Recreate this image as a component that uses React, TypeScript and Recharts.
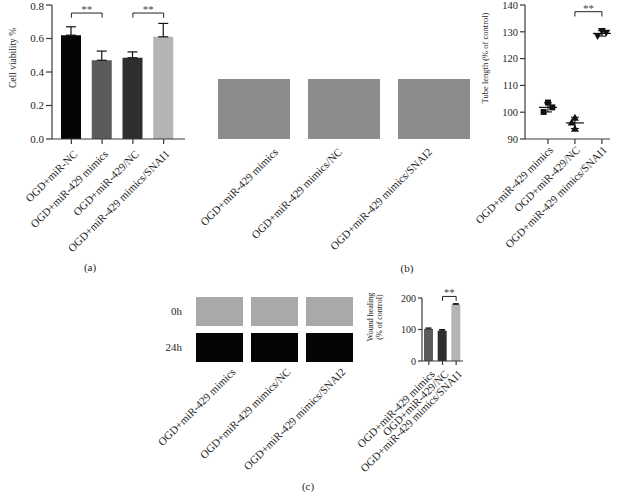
import React from 'react';
import {
  BarChart,
  Bar,
  Cell,
  XAxis,
  YAxis,
  ErrorBar,
  ReferenceLine,
  ScatterChart,
  Scatter,
} from 'recharts';

const FONT = '"Liberation Serif", "Times New Roman", Times, serif';
const INK = '#1e1e1e';
const AXIS = '#3a3a3a';

// ---------- (a) Cell viability ----------
const viabilityGroups = ['OGD+miR-NC', 'OGD+miR-429 mimics', 'OGD+miR-429/NC', 'OGD+miR-429 mimics/SNAI1'];
const viabilityMeans = [0.62, 0.47, 0.485, 0.61];
const viabilitySD = [0.05, 0.055, 0.035, 0.08];
const viabilityTicks = [0, 0.2, 0.4, 0.6, 0.8];
const viabilityColors = ['#050505', '#5b5b5b', '#2e2e2e', '#b4b4b4'];

// ---------- (b) tube formation images ----------
const tubeImageLabels = ['OGD+miR-429 mimics', 'OGD+miR-429 mimics/NC', 'OGD+miR-429 mimics/SNAI2'];
const tubeImageFill = [1, 1, 1];

// ---------- (b) tube length ----------
const tubeGroups = ['OGD+miR-429 mimics', 'OGD+miR-429/NC', 'OGD+miR-429 mimics/SNAI1'];
const tubeCategory = [1, 2, 3];
const tubeRep1 = [100.1, 97.9, 128.4];
const tubeRep2 = [103.6, 96.2, 130.3];
const tubeRep3 = [101.8, 93.8, 129.6];
const tubeMean = [101.8, 96.0, 129.4];
const tubeSD = [1.7, 2.1, 1.0];
const tubeTicks = [90, 100, 110, 120, 130, 140];

// ---------- (c) wound images ----------
const woundImageLabels = ['OGD+miR-429 mimics', 'OGD+miR-429 mimics/NC', 'OGD+miR-429 mimics/SNAI2'];
const woundRowLabels = ['24h', '0h'];

// ---------- (c) wound healing ----------
const woundGroups = ['OGD+miR-429 mimics', 'OGD+miR-429/NC', 'OGD+miR-429 mimics/SNAI1'];
const woundMeans = [102, 96, 180];
const woundSD = [3, 4, 2];
const woundTicks = [0, 50, 100, 150, 200];
const woundColors = ['#5b5b5b', '#2e2e2e', '#b4b4b4'];

// ---------- layout-only constants ----------
const tubeJitter = [
  [-0.16, 0, 0.16],
  [0, -0.12, 0],
  [-0.16, 0, 0.16],
];
const tubeImageNudge = [22, -4, -4];

// ---------- built tables ----------
const viabilityData = viabilityGroups.map((g, i) => ({ group: g, mean: viabilityMeans[i], err: [0, viabilitySD[i]] }));
const tubeImageData = tubeImageLabels.map((l, i) => ({ label: l, v: tubeImageFill[i] }));
const tubeReps = [tubeRep1, tubeRep2, tubeRep3];
const tubePoints = tubeCategory.map((c, g) =>
  tubeReps.map((rep, r) => ({ x: c + tubeJitter[g][r], y: rep[g] }))
);
const tubeMeanData = tubeCategory.map((c, g) => ({ x: c, y: tubeMean[g], err: tubeSD[g] }));
const woundImageData = woundImageLabels.map((l) => ({ label: l, s24: 1, gap: 0.25, s0: 1 }));
const woundData = woundGroups.map((g, i) => ({ group: g, mean: woundMeans[i], err: [0, woundSD[i]] }));

const SlantTick = (props: any) => {
  const { x, y, payload, index, labels, fs = 11, dx = 0, dy = 0, nudges } = props;
  let text = payload.value;
  if (labels) text = typeof payload.value === 'number' ? labels[payload.value - 1] : payload.value;
  const nx = nudges ? nudges[index] || 0 : 0;
  return (
    <g transform={`translate(${x + dx + nx},${y + dy})`}>
      <text textAnchor="end" transform="rotate(-45)" fontSize={fs} fontFamily={FONT} fill={INK} dy="0.35em">
        {text}
      </text>
    </g>
  );
};

const vTitle = (lines: string[], xs: number[], cy: number, fs: number) => () => (
  <g>
    {lines.map((l, i) => (
      <text
        key={i}
        x={xs[i]}
        y={cy}
        transform={`rotate(-90, ${xs[i]}, ${cy})`}
        textAnchor="middle"
        dominantBaseline="central"
        fontSize={fs}
        fontFamily={FONT}
        fill={INK}
      >
        {l}
      </text>
    ))}
  </g>
);

const starLabel = {
  content: (p: any) => {
    const vb = p.viewBox || { x: 0, y: 0, width: 0 };
    return (
      <text x={vb.x + vb.width / 2} y={vb.y} textAnchor="middle" fontSize={11} fontFamily={FONT} fill="#444">
        **
      </text>
    );
  },
};
const bracketStroke = { stroke: '#222', strokeWidth: 1 };

const PanelTag = ({ x, y, text }: { x: number; y: number; text: string }) => (
  <div
    style={{
      position: 'absolute',
      left: x - 20,
      top: y - 7,
      width: 40,
      lineHeight: '14px',
      textAlign: 'center',
      fontFamily: FONT,
      fontSize: 11,
      color: INK,
    }}
  >
    {text}
  </div>
);

const Abs = ({ x, y, children }: { x: number; y: number; children: React.ReactNode }) => (
  <div style={{ position: 'absolute', left: x, top: y }}>{children}</div>
);

const axisTick = (fs: number) => ({ fontSize: fs, fontFamily: FONT, fill: INK });

export default function App() {
  return (
    <div
      style={{
        position: 'absolute',
        left: 0,
        top: 0,
        width: 620,
        height: 493,
        background: '#fff',
        overflow: 'hidden',
      }}
    >
      {/* (a) Cell viability */}
      <Abs x={0} y={0}>
        <BarChart width={200} height={260} data={viabilityData} margin={{ top: 5, right: 15, left: 0, bottom: 0 }}>
          <XAxis
            dataKey="group"
            height={121}
            padding={{ left: 4, right: 6 }}
            tickSize={5}
            stroke={AXIS}
            strokeWidth={1.2}
            interval={0}
            tick={<SlantTick fs={11} dx={4} dy={6} />}
          />
          <YAxis
            width={52}
            domain={[0, 0.8]}
            ticks={viabilityTicks}
            tickFormatter={(v: number) => v.toFixed(1)}
            stroke={AXIS}
            strokeWidth={1.2}
            tick={axisTick(11)}
            label={{ content: vTitle(['Cell viability %'], [13], 58, 9.5) }}
          />
          <Bar dataKey="mean" barSize={20} isAnimationActive={false}>
            {viabilityData.map((d, i) => (
              <Cell key={d.group} fill={viabilityColors[i]} />
            ))}
            <ErrorBar dataKey="err" width={5} stroke="#111" strokeWidth={1.2} />
          </Bar>
          <ReferenceLine segment={[{ x: viabilityGroups[0], y: 0.752 }, { x: viabilityGroups[1], y: 0.752 }]} {...bracketStroke} label={starLabel} ifOverflow="visible" />
          <ReferenceLine segment={[{ x: viabilityGroups[0], y: 0.752 }, { x: viabilityGroups[0], y: 0.724 }]} {...bracketStroke} ifOverflow="visible" />
          <ReferenceLine segment={[{ x: viabilityGroups[1], y: 0.752 }, { x: viabilityGroups[1], y: 0.724 }]} {...bracketStroke} ifOverflow="visible" />
          <ReferenceLine segment={[{ x: viabilityGroups[2], y: 0.752 }, { x: viabilityGroups[3], y: 0.752 }]} {...bracketStroke} label={starLabel} ifOverflow="visible" />
          <ReferenceLine segment={[{ x: viabilityGroups[2], y: 0.752 }, { x: viabilityGroups[2], y: 0.724 }]} {...bracketStroke} ifOverflow="visible" />
          <ReferenceLine segment={[{ x: viabilityGroups[3], y: 0.752 }, { x: viabilityGroups[3], y: 0.724 }]} {...bracketStroke} ifOverflow="visible" />
        </BarChart>
      </Abs>

      {/* (b) images */}
      <Abs x={190} y={0}>
        <BarChart width={300} height={280} data={tubeImageData} margin={{ top: 79, right: 11, left: 19, bottom: 0 }}>
          <XAxis
            dataKey="label"
            height={141}
            axisLine={false}
            tickLine={false}
            interval={0}
            tick={<SlantTick fs={11} dx={0} dy={3} nudges={tubeImageNudge} />}
          />
          <YAxis hide domain={[0, 1]} />
          <Bar dataKey="v" barSize={72} fill="#8c8c8c" isAnimationActive={false} />
        </BarChart>
      </Abs>

      {/* (b) tube length */}
      <Abs x={470} y={0}>
        <ScatterChart width={150} height={260} margin={{ top: 5, right: 10, left: 0, bottom: 0 }}>
          <XAxis
            type="number"
            dataKey="x"
            domain={[0.15, 3.3]}
            ticks={tubeCategory}
            height={121}
            tickSize={5}
            stroke={AXIS}
            strokeWidth={1.2}
            interval={0}
            tick={<SlantTick fs={11} dx={3} dy={2} labels={tubeGroups} />}
          />
          <YAxis
            type="number"
            dataKey="y"
            width={55}
            domain={[90, 140]}
            ticks={tubeTicks}
            tickSize={5}
            stroke={AXIS}
            strokeWidth={1.2}
            tick={axisTick(10.5)}
            label={{ content: vTitle(['Tube length (% of control)'], [15], 58, 8.5) }}
          />
          <Scatter
            data={tubePoints[0]}
            isAnimationActive={false}
            shape={(p: any) => <rect x={p.cx - 3} y={p.cy - 3} width={6} height={6} fill="#111" />}
          />
          <Scatter
            data={tubePoints[1]}
            isAnimationActive={false}
            shape={(p: any) => (
              <polygon points={`${p.cx},${p.cy - 4} ${p.cx + 4},${p.cy + 3} ${p.cx - 4},${p.cy + 3}`} fill="#111" />
            )}
          />
          <Scatter
            data={tubePoints[2]}
            isAnimationActive={false}
            shape={(p: any) => (
              <polygon points={`${p.cx - 4},${p.cy - 3} ${p.cx + 4},${p.cy - 3} ${p.cx},${p.cy + 4}`} fill="#111" />
            )}
          />
          <Scatter
            data={tubeMeanData}
            isAnimationActive={false}
            shape={(p: any) => (
              <line x1={p.cx - 9} x2={p.cx + 9} y1={p.cy} y2={p.cy} stroke="#111" strokeWidth={1.2} />
            )}
          >
            <ErrorBar dataKey="err" direction="y" width={4} stroke="#111" strokeWidth={1.1} />
          </Scatter>
          <ReferenceLine segment={[{ x: 2, y: 137.5 }, { x: 3, y: 137.5 }]} {...bracketStroke} label={starLabel} ifOverflow="visible" />
          <ReferenceLine segment={[{ x: 2, y: 137.5 }, { x: 2, y: 135.7 }]} {...bracketStroke} ifOverflow="visible" />
          <ReferenceLine segment={[{ x: 3, y: 137.5 }, { x: 3, y: 135.7 }]} {...bracketStroke} ifOverflow="visible" />
        </ScatterChart>
      </Abs>

      {/* (c) images */}
      <Abs x={150} y={280}>
        <BarChart width={220} height={200} data={woundImageData} margin={{ top: 17, right: 13, left: 0, bottom: 0 }}>
          <XAxis
            dataKey="label"
            height={118}
            axisLine={false}
            tickLine={false}
            interval={0}
            tick={<SlantTick fs={11} dx={14} dy={0} />}
          />
          <YAxis
            width={42}
            type="number"
            domain={[0, 2.25]}
            ticks={[0.5, 1.75]}
            tickFormatter={(_v: number, i: number) => woundRowLabels[i]}
            axisLine={false}
            tickLine={false}
            tickSize={8}
            tick={axisTick(11)}
          />
          <Bar dataKey="s24" stackId="t" barSize={47} fill="#050505" isAnimationActive={false} />
          <Bar dataKey="gap" stackId="t" barSize={47} fill="#ffffff" fillOpacity={0} isAnimationActive={false} />
          <Bar dataKey="s0" stackId="t" barSize={47} fill="#a9a9a9" isAnimationActive={false} />
        </BarChart>
      </Abs>

      {/* (c) wound healing */}
      <Abs x={330} y={280}>
        <BarChart width={145} height={200} data={woundData} margin={{ top: 18, right: 12, left: 0, bottom: 0 }}>
          <XAxis
            dataKey="group"
            height={119}
            tickSize={4}
            stroke={AXIS}
            strokeWidth={1.2}
            interval={0}
            tick={<SlantTick fs={11} dx={4} dy={5} />}
          />
          <YAxis
            width={92}
            domain={[0, 200]}
            ticks={woundTicks}
            tickSize={4}
            stroke={AXIS}
            strokeWidth={1.2}
            tick={axisTick(10)}
            label={{ content: vTitle(['Wound healing', '(% of control)'], [40, 49], 37, 8) }}
          />
          <Bar dataKey="mean" barSize={9} isAnimationActive={false}>
            {woundData.map((d, i) => (
              <Cell key={d.group} fill={woundColors[i]} />
            ))}
            <ErrorBar dataKey="err" width={3} stroke="#111" strokeWidth={1} />
          </Bar>
          <ReferenceLine segment={[{ x: woundGroups[1], y: 205 }, { x: woundGroups[2], y: 205 }]} {...bracketStroke} label={starLabel} ifOverflow="visible" />
          <ReferenceLine segment={[{ x: woundGroups[1], y: 205 }, { x: woundGroups[1], y: 191 }]} {...bracketStroke} ifOverflow="visible" />
          <ReferenceLine segment={[{ x: woundGroups[2], y: 205 }, { x: woundGroups[2], y: 191 }]} {...bracketStroke} ifOverflow="visible" />
        </BarChart>
      </Abs>

      <PanelTag x={90} y={267} text="(a)" />
      <PanelTag x={407} y={268} text="(b)" />
      <PanelTag x={308} y={486} text="(c)" />
    </div>
  );
}
